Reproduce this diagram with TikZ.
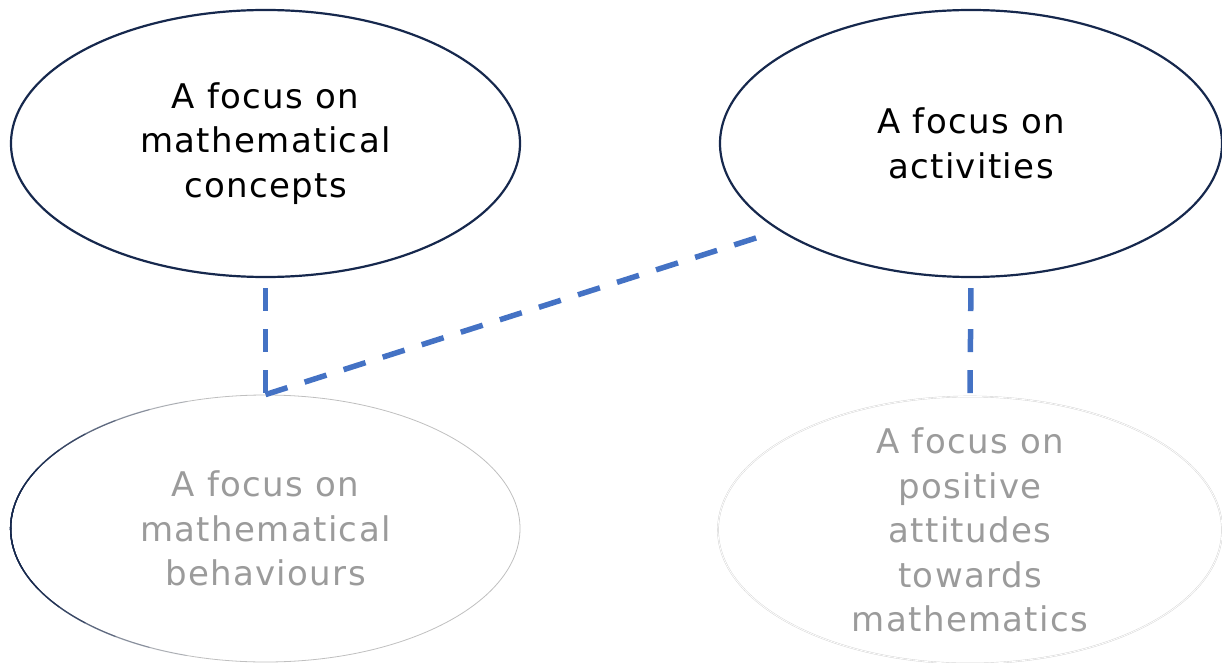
\documentclass[tikz,border=0pt]{standalone}
\usepackage{fontspec}
\usetikzlibrary{shapes.geometric}
\newfontfamily\bubblefont{DejaVu Sans}[LetterSpace=4]

\definecolor{ovalnavy}{HTML}{16284D}
\definecolor{linkblue}{HTML}{4472C4}
\definecolor{fadedgray}{HTML}{9B9B9B}

\tikzset{
  oval/.style={ellipse, draw=ovalnavy, line width=2.2pt, inner sep=0pt,
    minimum width=509pt, minimum height=267pt},
  faded oval/.style={ellipse, inner sep=0pt, minimum width=509pt, minimum height=267pt},
  txt/.style={align=center, font=\bubblefont\fontsize{34}{44.5}\selectfont},
  faded txt/.style={txt, text=fadedgray},
  link/.style={draw=linkblue, line width=5.5pt, dash pattern=on 23pt off 18pt},
}

\begin{document}
\begin{tikzpicture}[x=1pt, y=-1pt]
    \useasboundingbox (0,0) rectangle (1222,663);

    % upper ovals
    \node[oval, label={[txt]center:{A focus on\\mathematical\\concepts}}] (concepts) at (265.5,143.5) {};
    \node[oval, minimum width=502pt, label={[txt]center:{A focus on\\activities}}] (activities) at (971,143.5) {};

    % lower ovals, greyed out
    \node[faded oval, draw=black!25, line width=0.8pt,
      label={[faded txt]center:{A focus on\\mathematical\\behaviours}}] (behaviours) at (265.5,528.5) {};
    \foreach \i in {0,...,7} {
        \draw[ovalnavy, line width=1.3pt, opacity=1-\i/8]
            (behaviours.west) arc[start angle=180, end angle=180+\i*9, x radius=254.5, y radius=133.5]
            arc[start angle=180+\i*9, end angle=189+\i*9, x radius=254.5, y radius=133.5];
        \draw[ovalnavy, line width=1.3pt, opacity=1-\i/8]
            (behaviours.west) arc[start angle=180, end angle=180-\i*9, x radius=254.5, y radius=133.5]
            arc[start angle=180-\i*9, end angle=171-\i*9, x radius=254.5, y radius=133.5];
    }
    \node[faded oval, minimum width=504pt, draw=black!18, line width=0.4pt, double=white, double distance=0.8pt,
      label={[faded txt]center:{A focus on\\positive\\attitudes\\towards\\mathematics}}] (attitudes) at (970,530) {};

    % dashed links
    \coordinate (diagEnd) at (759,237);
    \draw[link, shorten <=10pt] (concepts.south) -- (behaviours.north);
    \draw[link] (behaviours.north) -- (diagEnd);
    \draw[link, shorten <=10pt] (activities.south) -- (attitudes.north);
\end{tikzpicture}
\end{document}
